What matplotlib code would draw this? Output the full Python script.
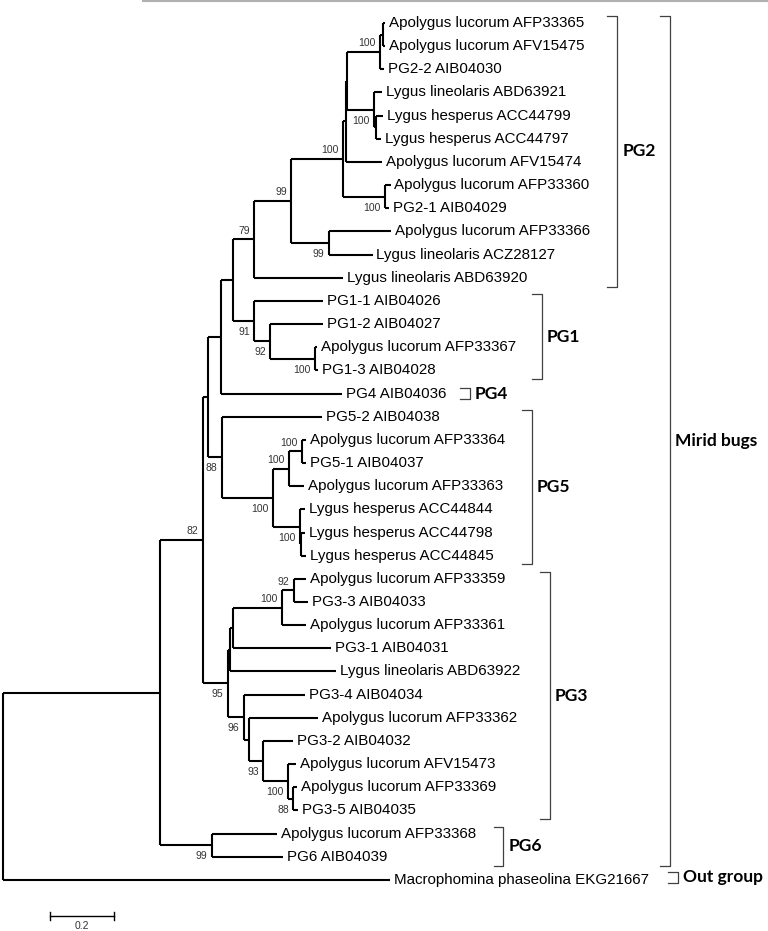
import matplotlib
matplotlib.use("Agg")
import matplotlib.pyplot as plt
from matplotlib.lines import Line2D

# leaf names, top to bottom (numbers in the newick strings index into this list)
taxa = [
    "Apolygus lucorum AFP33365", "Apolygus lucorum AFV15475", "PG2-2 AIB04030",
    "Lygus lineolaris ABD63921", "Lygus hesperus ACC44799", "Lygus hesperus ACC44797",
    "Apolygus lucorum AFV15474", "Apolygus lucorum AFP33360", "PG2-1 AIB04029",
    "Apolygus lucorum AFP33366", "Lygus lineolaris ACZ28127", "Lygus lineolaris ABD63920",
    "PG1-1 AIB04026", "PG1-2 AIB04027", "Apolygus lucorum AFP33367", "PG1-3 AIB04028",
    "PG4 AIB04036",
    "PG5-2 AIB04038", "Apolygus lucorum AFP33364", "PG5-1 AIB04037",
    "Apolygus lucorum AFP33363", "Lygus hesperus ACC44844", "Lygus hesperus ACC44798",
    "Lygus hesperus ACC44845",
    "Apolygus lucorum AFP33359", "PG3-3 AIB04033", "Apolygus lucorum AFP33361",
    "PG3-1 AIB04031", "Lygus lineolaris ABD63922", "PG3-4 AIB04034",
    "Apolygus lucorum AFP33362", "PG3-2 AIB04032", "Apolygus lucorum AFV15473",
    "Apolygus lucorum AFP33369", "PG3-5 AIB04035",
    "Apolygus lucorum AFP33368", "PG6 AIB04039",
    "Macrophomina phaseolina EKG21667",
]

# clades with branch lengths and bootstrap support
pg2_clade = ("(((((((0:0.006,1:0.006):0.009,2:0.0125)100:0.103,"
             "(3:0.025,(4:0.022,5:0.016):0.006)100:0.084):0.003,6:0.1125):0.009,"
             "(7:0.016,8:0.0125)100:0.131)100:0.1625,(9:0.194,10:0.1375)99:0.116)99:0.116,"
             "11:0.278)79:0.066")
pg1_clade = "(12:0.216,(13:0.166,(14:0.006,15:0.009)100:0.141)92:0.05)91:0.066"
pg4_leaf = "16:0.378"
pg5_clade = ("(17:0.3125,(((18:0.0125,19:0.0125)100:0.041,20:0.047)100:0.05,"
             "(21:0.016,(22:0.0125,23:0.016):0.003)100:0.084)100:0.159)88:0.044")
pg3_upper = "((((24:0.0375,25:0.044)92:0.0375,26:0.075)100:0.153,27:0.306):0.009,28:0.331):0.006"
pg3_lower = ("(29:0.19,(30:0.216,(31:0.094,(32:0.025,(33:0.0125,34:0.016)88:0.016)"
             "100:0.078)93:0.044):0.016)96:0.05")
pg6_clade = "(35:0.203,36:0.222)99:0.1625"
outgroup = "37:1.209"

newick = ("((((((" + pg2_clade + "," + pg1_clade + "):0.0375," + pg4_leaf + "):0.041,"
          + pg5_clade + "):0.016,(" + pg3_upper + "," + pg3_lower + ")95:0.078)82:0.134,"
          + pg6_clade + "):0.491," + outgroup + ");")

# bracket groups: label, first leaf, last leaf
groups = ["PG2", "PG1", "PG4", "PG5", "PG3", "PG6", "Mirid bugs", "Out group"]
group_first = [0, 12, 16, 17, 24, 35, 0, 37]
group_last = [11, 15, 16, 23, 34, 36, 36, 37]
group_x = [1.919, 1.684, 1.459, 1.653, 1.709, 1.563, 2.084, 2.109]

scale_len = 0.2


def parse_newick(s):
    pos = 0

    def node():
        nonlocal pos
        n = {"children": [], "name": "", "length": 0.0}
        if s[pos] == "(":
            pos += 1
            n["children"].append(node())
            while s[pos] == ",":
                pos += 1
                n["children"].append(node())
            pos += 1
        start = pos
        while pos < len(s) and s[pos] not in ":,);":
            pos += 1
        n["name"] = s[start:pos]
        if pos < len(s) and s[pos] == ":":
            pos += 1
            start = pos
            while s[pos] not in ",);":
                pos += 1
            n["length"] = float(s[start:pos])
        return n

    return node()


def layout(n, x0=0.0):
    n["x"] = x0 + n["length"]
    if n["children"]:
        for c in n["children"]:
            layout(c, n["x"])
        n["y"] = (n["children"][0]["y"] + n["children"][-1]["y"]) / 2
    else:
        n["y"] = int(n["name"])


root = parse_newick(newick)
root["length"] = 0.0
layout(root, 0.0)

fig = plt.figure(figsize=(7.68, 9.31), dpi=100)
ax = fig.add_axes([0, 0, 1, 1])
ax.axis("off")
ax.set_xlim(-3 / 320, 765 / 320)
ax.set_ylim((931 - 23) / 23.16, -23 / 23.16)

lw = 1.5
leaf_font = dict(family="Liberation Sans", fontsize=10.9, color="black")
boot_font = dict(family="Liberation Sans", fontsize=7.5, color="#333333")


def draw(n):
    kids = n["children"]
    if not kids:
        ax.text(n["x"] + 0.012, n["y"], taxa[int(n["name"])], va="center", ha="left", **leaf_font)
        return
    ax.plot([n["x"], n["x"]], [kids[0]["y"], kids[-1]["y"]], color="black", lw=lw,
            solid_capstyle="butt")
    for i, c in enumerate(kids):
        ax.plot([n["x"], c["x"]], [c["y"], c["y"]], color="black", lw=lw,
                solid_capstyle="butt")
        if c["children"] and c["name"]:
            dy = -0.38 if i == 0 else 0.47
            ax.text(c["x"] - 0.014, c["y"] + dy, c["name"], ha="right", va="center", **boot_font)
        draw(c)


draw(root)

# clade brackets
for name, a, b, gx in zip(groups, group_first, group_last, group_x):
    if a == b:
        top, bot = a - 0.25, b + 0.25
        if name == "Out group":
            top, bot = a - 0.35, b + 0.13
    else:
        top, bot = a - 0.3, b + 0.38
    ax.plot([gx - 0.03, gx, gx, gx - 0.03], [top, top, bot, bot], color="#404040", lw=0.9)
    ax.text(gx + 0.016, (top + bot) / 2, name, ha="left", va="center",
            family="Lato", fontweight="bold", fontsize=12.5, color="black")

# scale bar
sb_y = 38.56
sb_x0 = 0.147
ax.plot([sb_x0, sb_x0 + scale_len], [sb_y, sb_y], color="black", lw=1)
for xx in (sb_x0, sb_x0 + scale_len):
    ax.plot([xx, xx], [sb_y - 0.17, sb_y + 0.17], color="black", lw=1)
ax.text(sb_x0 + scale_len / 2, sb_y + 0.45, "%.1f" % scale_len, ha="center", va="center",
        **boot_font)

# thin grey rule along the top edge
fig.add_artist(Line2D([143 / 768, 1], [1 - 1 / 931, 1 - 1 / 931], color="#b0b0b0", lw=1.5))

fig.savefig("out.png", dpi=100)
